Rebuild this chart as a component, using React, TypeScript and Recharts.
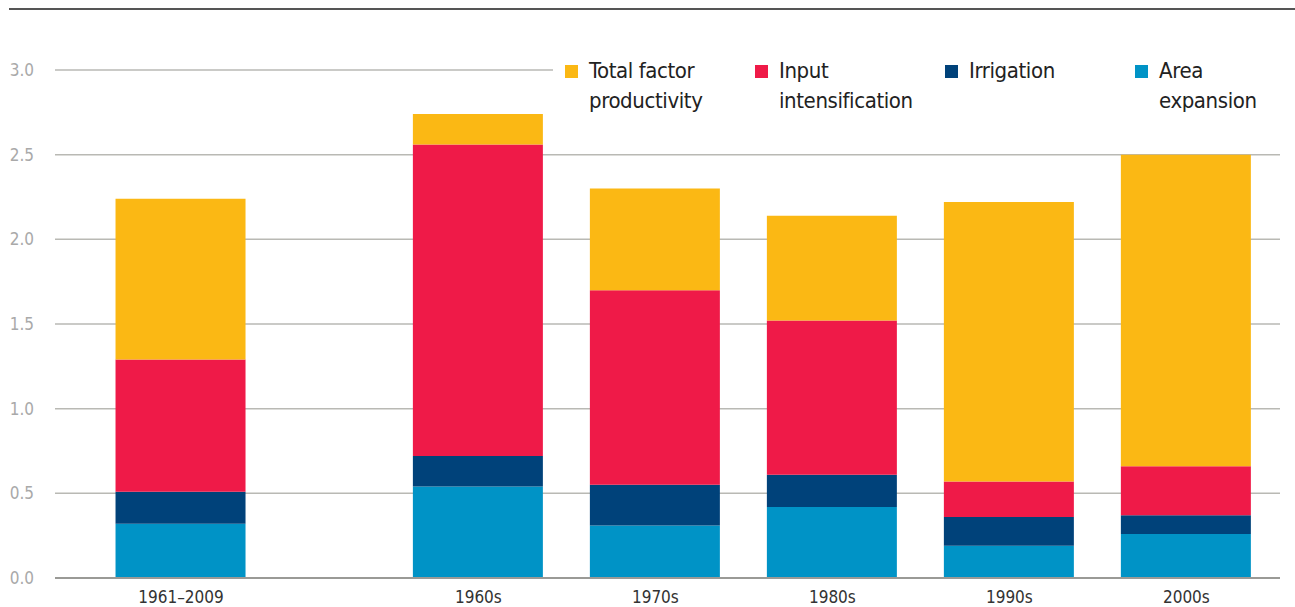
import { BarChart, Bar, XAxis, YAxis, CartesianGrid } from 'recharts';

const categories = ['1961–2009', '1960s', '1970s', '1980s', '1990s', '2000s'];
const areaExpansion = [0.32, 0.54, 0.31, 0.42, 0.19, 0.26];
const irrigation = [0.19, 0.18, 0.24, 0.19, 0.17, 0.11];
const inputIntensification = [0.78, 1.84, 1.15, 0.91, 0.21, 0.29];
const totalFactor = [0.95, 0.18, 0.6, 0.62, 1.65, 1.84];
const yTicks = [0, 0.5, 1, 1.5, 2, 2.5, 3];

// the long-run bar sits apart from the decades
const GAP = 0.68;
const slot = (i: number) => (i === 0 ? 0 : i + GAP);

const FONT = "'Liberation Sans Narrow', 'DejaVu Sans Condensed', Roboto, sans-serif";

const series = [
  { key: 'area', name: 'Area\nexpansion', color: '#0093c6' },
  { key: 'irrigation', name: 'Irrigation', color: '#00427a' },
  { key: 'input', name: 'Input\nintensification', color: '#ef1a48' },
  { key: 'tfp', name: 'Total factor\nproductivity', color: '#fbb814' },
];

const data = categories.map((c, i) => ({
  pos: slot(i),
  label: c,
  area: areaExpansion[i],
  irrigation: irrigation[i],
  input: inputIntensification[i],
  tfp: totalFactor[i],
}));

function LegendBox() {
  const items = [...series].reverse();
  return (
    <div
      style={{
        position: 'absolute',
        left: 553,
        top: 56,
        width: 742,
        display: 'flex',
        background: '#fff',
        paddingLeft: 12,
        boxSizing: 'border-box',
      }}
    >
      {items.map((s) => (
        <div key={s.key} style={{ width: 190, flex: '0 0 190px', display: 'flex', alignItems: 'flex-start' }}>
          <div style={{ width: 13, height: 13, background: s.color, marginTop: 9, marginRight: 11, flex: '0 0 13px' }} />
          <div
            style={{
              fontFamily: FONT,
              fontSize: 22,
              lineHeight: '30px',
              letterSpacing: -0.4,
              color: '#222',
              whiteSpace: 'pre',
            }}
          >
            {s.name}
          </div>
        </div>
      ))}
    </div>
  );
}

function YTick({ y, payload }: any) {
  return (
    <text x={34} y={y} dy={6} textAnchor="end" fill="#a9a9a9" fontSize={17} fontFamily={FONT}>
      {Number(payload.value).toFixed(1)}
    </text>
  );
}

export default function App() {
  return (
    <div style={{ position: 'absolute', left: 0, top: 0, width: 1295, height: 607, background: '#fff' }}>
      <div style={{ position: 'absolute', left: 9, right: 0, top: 8, height: 2, background: '#555' }} />
      <div style={{ position: 'absolute', left: 0, top: 0 }}>
        <BarChart
          width={1295}
          height={607}
          data={data}
          margin={{ top: 70, right: 15, bottom: 0, left: 0 }}
        >
          <CartesianGrid vertical={false} stroke="#b9b9b4" strokeWidth={1.5} />
          <XAxis
            type="number"
            dataKey="pos"
            domain={[-0.712, 6.209]}
            ticks={data.map((d) => d.pos)}
            tickFormatter={(v: number) => data.find((d) => d.pos === v)?.label ?? ''}
            height={29}
            tickLine={false}
            axisLine={{ stroke: '#9a9a96', strokeWidth: 2 }}
            tick={{ fill: '#333', fontSize: 17, fontFamily: FONT }}
            tickMargin={7}
            interval={0}
          />
          <YAxis
            domain={[0, 3]}
            ticks={yTicks}
            width={55}
            axisLine={false}
            tickLine={false}
            tick={<YTick />}
          />
          {series.map((s) => (
            <Bar key={s.key} dataKey={s.key} stackId="a" fill={s.color} barSize={130} isAnimationActive={false} />
          ))}
        </BarChart>
      </div>
      <LegendBox />
    </div>
  );
}
